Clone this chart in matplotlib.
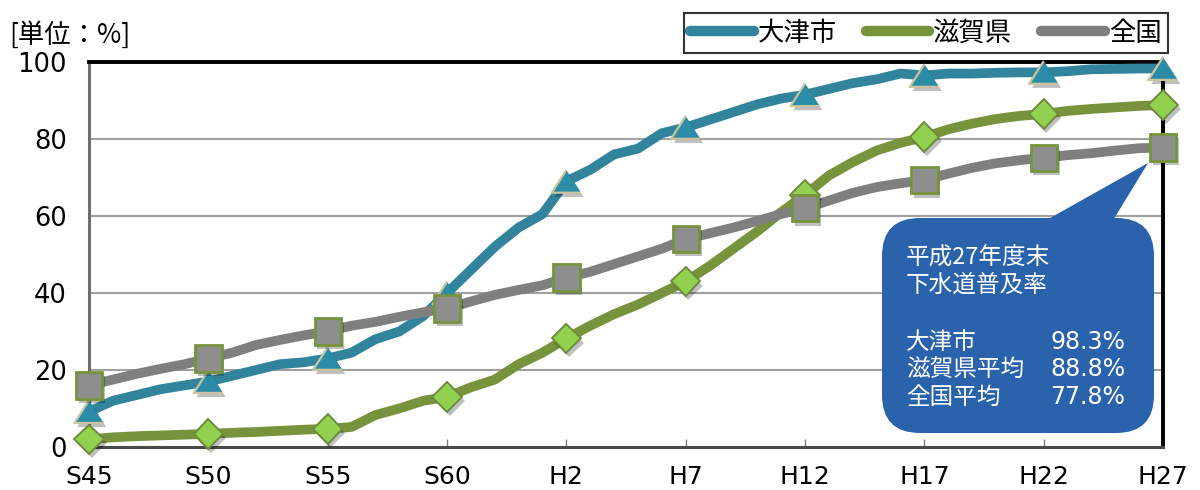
import matplotlib
matplotlib.use('Agg')
import matplotlib.pyplot as plt
import matplotlib.patheffects as pe
from matplotlib.patches import FancyBboxPatch, Polygon
from matplotlib.lines import Line2D

plt.rcParams['font.family'] = ['Noto Sans CJK JP', 'DejaVu Sans']

# 年度 (S45 = 1970 ... H27 = 2015)
years = list(range(1970, 2016))
tick_years = [1970, 1975, 1980, 1985, 1990, 1995, 2000, 2005, 2010, 2015]
tick_labels = ['S45', 'S50', 'S55', 'S60', 'H2', 'H7', 'H12', 'H17', 'H22', 'H27']

otsu = [9.2, 12, 13.5, 15, 16, 17, 18.5, 20, 21.5, 22, 23, 24.5, 28, 30, 34, 40,
        46, 52, 57, 60.5, 69, 72, 76, 77.5, 81.5, 83, 85, 87, 89, 90.5, 91.5,
        93, 94.5, 95.5, 97, 96.5, 97, 97, 97.2, 97.3, 97.3, 97.6, 98.1, 98.2, 98.3, 98.3]
shiga = [2, 2.5, 2.8, 3, 3.2, 3.4, 3.7, 3.9, 4.2, 4.5, 4.7, 5.2, 8.3, 10, 12, 13,
         15.5, 17.5, 21.5, 24.5, 28.2, 31.5, 34.5, 37, 40, 43, 47, 51.5, 56, 61, 65.5,
         70.5, 74, 77, 79, 80.5, 82.5, 84, 85.2, 86, 86.5, 87.3, 87.8, 88.2, 88.6, 88.8]
zenkoku = [16, 17.5, 19, 20.3, 21.5, 23, 24.5, 26.5, 27.8, 29, 30, 31.5, 32.5, 33.8, 35, 36,
           37.8, 39.5, 40.8, 42, 44, 45.5, 47.5, 49.5, 51.5, 54, 55.5, 57, 58.7, 60.5, 62,
           64, 66, 67.5, 68.5, 69.3, 71, 72.5, 73.7, 74.5, 75.1, 75.8, 76.3, 77, 77.6, 77.8]

names = ['大津市', '滋賀県', '全国']
line_colors = ['#31849B', '#77933C', '#7F7F7F']

callout_title = ['平成27年度末', '下水道普及率']
callout_rows = [('大津市', '98.3%'), ('滋賀県平均', '88.8%'), ('全国平均', '77.8%')]

fig = plt.figure(figsize=(12, 4.9), dpi=100)
ax = fig.add_axes([0.0742, 0.0878, 0.8950, 0.7857])

series = [otsu, shiga, zenkoku]
for vals, c in zip(series, line_colors):
    ax.plot(years, vals, color=c, lw=7, solid_joinstyle='round',
            solid_capstyle='butt', zorder=3)

# markers every 5 years
mk_idx = [years.index(y) for y in tick_years]
tri = [(0, 0.78), (-1, -0.78), (1, -0.78)]
shadow = [pe.SimplePatchShadow(offset=(2, -3), shadow_rgbFace='k', alpha=0.25), pe.Normal()]
marker_styles = [
    dict(marker=tri, ms=21, mfc='#2A8CA6', mec='#C9C3A0', mew=1.6),
    dict(marker='D', ms=15, mfc='#92D050', mec='#6E8B3D', mew=1.4),
    dict(marker='s', ms=19, mfc='#8E8E8E', mec='#77933C', mew=2.0),
]
for vals, st in zip(series, marker_styles):
    ax.plot([years[i] for i in mk_idx], [vals[i] for i in mk_idx], ls='none',
            clip_on=False, zorder=4, path_effects=shadow, **st)

ax.set_xlim(1970, 2015)
ax.set_ylim(0, 100)
ax.set_yticks(range(0, 101, 20))
ax.set_xticks(tick_years)
ax.set_xticklabels(tick_labels)
ax.tick_params(axis='y', length=0, pad=16, labelsize=18.5)
ax.tick_params(axis='x', length=6, direction='in', pad=13, labelsize=18,
               color='#7F7F7F', width=1)
for lab in ax.get_xticklabels() + ax.get_yticklabels():
    lab.set_family(['DejaVu Sans'])
ax.grid(axis='y', color='#A0A0A0', lw=1.5, zorder=1)
ax.set_axisbelow(True)

ax.spines['top'].set_color('black')
ax.spines['top'].set_linewidth(2.8)
ax.spines['right'].set_color('black')
ax.spines['right'].set_linewidth(2.8)
ax.spines['left'].set_color('#6E6E6E')
ax.spines['left'].set_linewidth(2.2)
ax.spines['bottom'].set_color('#4A4A4A')
ax.spines['bottom'].set_linewidth(2.2)

fig.text(0.008, 0.928, '[単位：%]', fontsize=19, va='center', ha='left')

handles = [Line2D([0], [0], color=c, lw=7.5, solid_capstyle='round') for c in line_colors]
leg = fig.legend(handles, names, loc='upper right', bbox_to_anchor=(1168 / 1200, 1 - 13 / 490),
                 ncol=3, fontsize=19, frameon=True, fancybox=False, handlelength=2.4,
                 handletextpad=0.15, columnspacing=1.1, borderpad=0.25, borderaxespad=0)
leg.get_frame().set_edgecolor('black')
leg.get_frame().set_linewidth(1.5)

# callout (inches)
box_col = '#2A62AB'
box = FancyBboxPatch((8.82, 0.57), 2.72, 2.15, boxstyle='round,pad=0,rounding_size=0.38',
                     transform=fig.dpi_scale_trans, facecolor=box_col, edgecolor='none', zorder=5)
fig.patches.append(box)
tail = Polygon([(10.43, 2.68), (11.12, 2.68), (11.48, 3.27)], closed=True,
               transform=fig.dpi_scale_trans, facecolor=box_col, edgecolor='none', zorder=5)
fig.patches.append(tail)

for txt, y in zip(callout_title, [2.32, 2.05]):
    fig.text(9.06 / 12, y / 4.9, txt, color='white', fontsize=17, va='center', ha='left',
             zorder=7)
for (lab, val), y in zip(callout_rows, [1.48, 1.21, 0.93]):
    fig.text(9.06 / 12, y / 4.9, lab, color='white', fontsize=17, va='center', ha='left',
             zorder=7)
    fig.text(11.25 / 12, y / 4.9, val, color='white', fontsize=17, va='center', ha='right',
             family=['DejaVu Sans'], zorder=7)

fig.savefig('out.png', dpi=100)
